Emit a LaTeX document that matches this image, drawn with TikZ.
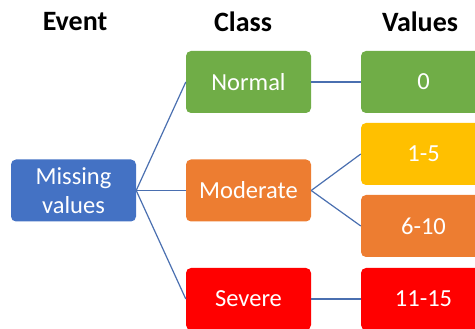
\documentclass[tikz,border=0pt]{standalone}
\usepackage{fontspec}
\setmainfont{Carlito}
\begin{document}
\begin{tikzpicture}[x=1pt,y=-1pt,
  box/.style={rounded corners=5pt, minimum width=125pt, minimum height=62pt,
    inner sep=0pt, text=white, font=\fontsize{24.5}{28.5}\selectfont, align=center},
  head/.style={font=\bfseries\fontsize{28}{30}\selectfont, text=black},
  link/.style={draw=linkblue, line width=1.2pt}]
\definecolor{linkblue}{HTML}{4A6FB0}
\definecolor{cblue}{HTML}{4472C4}
\definecolor{cgreen}{HTML}{70AD47}
\definecolor{corange}{HTML}{ED7D31}
\definecolor{cyellow}{HTML}{FFC000}
\definecolor{cred}{HTML}{FF0000}
\useasboundingbox (0,0) rectangle (475,329);
\clip (0,0) rectangle (475,329);
% column headings
\node[head] (hEvent) at (75,22) {Event};
\node[head] (hClass) at (243,22) {Class};
\node[head] (hValues) at (420,22) {Values};
% event
\node[box, fill=cblue] (missing) at (73.5,190.5) {Missing\\values};
% classes
\node[box, fill=cgreen] (normal) at (248.5,82) {Normal};
\node[box, fill=corange] (moderate) at (248.5,190.5) {Moderate};
\node[box, fill=cred] (severe) at (248.5,299) {Severe};
% values
\node[box, fill=cgreen] (v0) at (423.5,82) {0};
\node[box, fill=cyellow] (v15) at (423.5,154) {1-5};
\node[box, fill=corange] (v610) at (423.5,226) {6-10};
\node[box, fill=cred] (v1115) at (423.5,299) {11-15};
% connectors
\draw[link] (missing.east) -- (normal.west);
\draw[link] (missing.east) -- (moderate.west);
\draw[link] (missing.east) -- (severe.west);
\draw[link] (normal.east) -- (v0.west);
\draw[link] (moderate.east) -- (v15.west);
\draw[link] (moderate.east) -- (v610.west);
\draw[link] (severe.east) -- (v1115.west);
\end{tikzpicture}
\end{document}
